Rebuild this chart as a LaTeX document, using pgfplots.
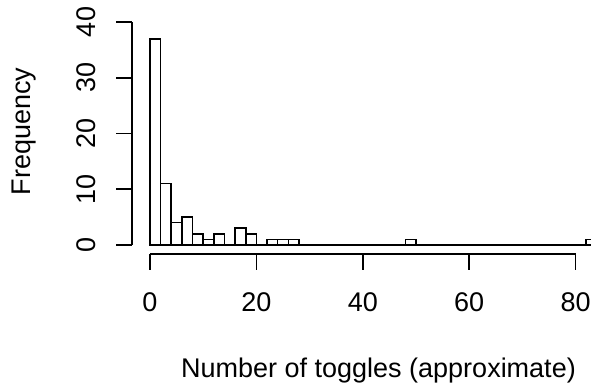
\documentclass[border=0pt]{standalone}
\usepackage{fontspec}
\setmainfont{Liberation Sans}
\usepackage{pgfplots}
\pgfplotsset{compat=1.18}
\begin{document}
\begin{tikzpicture}
\begin{axis}[
  x=5.32pt, y=5.575pt,
  scale only axis,
  xmin=-3.36, xmax=87.36, ymin=-1.6, ymax=41.6,
  axis lines*=left,
  axis line style={draw=none},
  tick align=outside,
  major tick length=16pt,
  tick style={black, line width=1.6pt},
  xtick={0,20,40,60,80},
  ytick={0,10,20,30,40},
  minor tick num=0,
  /pgf/number format/assume math mode=true,
  ticklabel style={font=\fontsize{27}{32}\selectfont},
  xticklabel style={anchor=base, yshift=-42pt},
  yticklabel style={rotate=90, anchor=base, yshift=21pt},
  xlabel={Number of toggles (approximate)},
  ylabel={Frequency},
  label style={font=\fontsize{27}{32}\selectfont},
  xlabel style={at={(axis cs:42.95,-23.73)}, anchor=base},
  ylabel style={at={(axis cs:-22.46,20.36)}, anchor=base, rotate=0},
  clip=false,
]
\addplot[ybar interval, fill=white, draw=black, line width=1.6pt] coordinates {
(0,37) (2,11) (4,4) (6,5) (8,2) (10,1) (12,2) (14,0) (16,3) (18,2)
(20,0) (22,1) (24,1) (26,1) (28,0) (30,0) (32,0) (34,0) (36,0) (38,0)
(40,0) (42,0) (44,0) (46,0) (48,1) (50,0) (52,0) (54,0) (56,0) (58,0)
(60,0) (62,0) (64,0) (66,0) (68,0) (70,0) (72,0) (74,0) (76,0) (78,0)
(80,0) (82,1) (84,1)
};
\draw[black, line width=1.6pt] (axis cs:0,-1.6) -- (axis cs:80,-1.6);
\draw[black, line width=1.6pt] (axis cs:-3.36,0) -- (axis cs:-3.36,40);
\coordinate (bl) at (axis cs:-28.195,-24.933);
\coordinate (tr) at (axis cs:82.895,43.946);
\end{axis}
\pgfresetboundingbox
\path[use as bounding box] (bl) rectangle (tr);
\end{tikzpicture}
\end{document}
